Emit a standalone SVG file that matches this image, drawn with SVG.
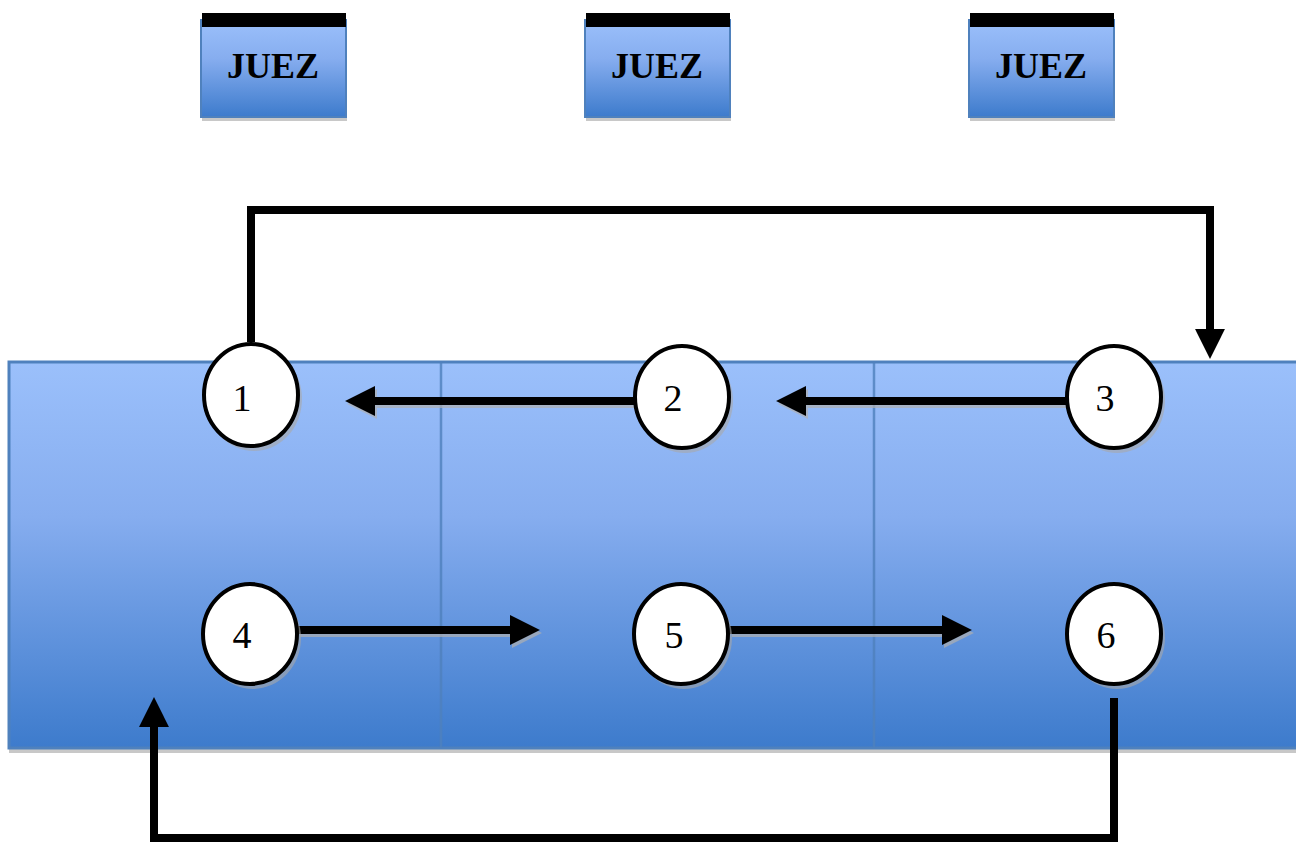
<svg xmlns="http://www.w3.org/2000/svg" width="1296" height="844" viewBox="0 0 1296 844">
<defs>
<linearGradient id="gBlue" x1="0" y1="0" x2="0" y2="1">
<stop offset="0" stop-color="#9bc0fb"/>
<stop offset="0.4" stop-color="#86adef"/>
<stop offset="1" stop-color="#3d7bcc"/>
</linearGradient>
<marker id="ah" markerUnits="userSpaceOnUse" markerWidth="30" markerHeight="30" viewBox="0 0 28 28" refX="1" refY="14" orient="auto">
<path d="M0,0 L28,14 L0,28 Z" fill="#000"/>
</marker>
<marker id="ahs" markerUnits="userSpaceOnUse" markerWidth="30" markerHeight="30" viewBox="0 0 28 28" refX="1" refY="14" orient="auto">
<path d="M0,0 L28,14 L0,28 Z" fill="#b0b0b0"/>
</marker>
</defs>
<style>
.box{fill:url(#gBlue);stroke:#4f81bd;stroke-width:2}
.bar{fill:#000}
.shadow{fill:#c8c8c8}
.juez{font-family:"Liberation Serif",serif;font-weight:bold;font-size:36px;fill:#000;text-anchor:middle}
.num{font-family:"Liberation Serif",serif;font-size:38px;fill:#000;text-anchor:middle}
.node{fill:#fff;stroke:#000;stroke-width:4}
.nshadow{fill:#a8a8a8;opacity:0.6}
.con{fill:none;stroke:#000;stroke-width:8;stroke-linejoin:miter}
.conS{fill:none;stroke:#b0b0b0;stroke-width:8;opacity:0.7}
.div{stroke:#4f81bd;stroke-width:2.5;opacity:0.8}
</style>

<g id="judge1">
<rect class="shadow" x="202" y="116" width="145" height="5"/>
<rect class="box" x="201" y="20" width="145" height="97"/>
<rect class="bar" x="202" y="13" width="144" height="14"/>
<text class="juez" x="273" y="78">JUEZ</text>
</g>
<g id="judge2">
<rect class="shadow" x="586" y="116" width="145" height="5"/>
<rect class="box" x="585" y="20" width="145" height="97"/>
<rect class="bar" x="586" y="13" width="144" height="14"/>
<text class="juez" x="657" y="78">JUEZ</text>
</g>
<g id="judge3">
<rect class="shadow" x="970" y="116" width="145" height="5"/>
<rect class="box" x="969" y="20" width="145" height="97"/>
<rect class="bar" x="970" y="13" width="144" height="14"/>
<text class="juez" x="1041" y="78">JUEZ</text>
</g>

<g id="band">
<rect class="shadow" x="9" y="747" width="1290" height="6"/>
<rect x="9" y="362" width="1300" height="386" fill="url(#gBlue)" stroke="#4f81bd" stroke-width="3"/>
<line class="div" x1="441" y1="362" x2="441" y2="748"/>
<line class="div" x1="874" y1="362" x2="874" y2="748"/>
</g>

<g id="connectors">
<path class="conS" d="M636,404 L376,404" marker-end="url(#ahs)"/>
<path class="conS" d="M1068,404 L807,404" marker-end="url(#ahs)"/>
<path class="conS" d="M300,633 L513,633" marker-end="url(#ahs)"/>
<path class="conS" d="M732,633 L945,633" marker-end="url(#ahs)"/>
<path class="con" d="M634,401 L374,401" marker-end="url(#ah)"/>
<path class="con" d="M1066,401 L805,401" marker-end="url(#ah)"/>
<path class="con" d="M298,630 L511,630" marker-end="url(#ah)"/>
<path class="con" d="M730,630 L943,630" marker-end="url(#ah)"/>
<path class="con" d="M251,342 L251,210 L1210,210 L1210,330" marker-end="url(#ah)"/>
<path class="con" d="M1114,698 L1114,838 L154,838 L154,726" marker-end="url(#ah)"/>
</g>

<g id="node1">
<ellipse class="nshadow" cx="254" cy="399" rx="48" ry="52"/>
<ellipse class="node" cx="251" cy="395" rx="47" ry="51"/>
<text class="num" x="242" y="411">1</text>
</g>
<g id="node2">
<ellipse class="nshadow" cx="685" cy="401" rx="48" ry="52"/>
<ellipse class="node" cx="682" cy="397" rx="47" ry="51"/>
<text class="num" x="673" y="411">2</text>
</g>
<g id="node3">
<ellipse class="nshadow" cx="1117" cy="401" rx="48" ry="52"/>
<ellipse class="node" cx="1114" cy="397" rx="47" ry="51"/>
<text class="num" x="1105" y="411">3</text>
</g>
<g id="node4">
<ellipse class="nshadow" cx="253" cy="638" rx="48" ry="51"/>
<ellipse class="node" cx="250" cy="634" rx="47" ry="50"/>
<text class="num" x="242" y="648">4</text>
</g>
<g id="node5">
<ellipse class="nshadow" cx="684" cy="638" rx="48" ry="51"/>
<ellipse class="node" cx="681" cy="634" rx="47" ry="50"/>
<text class="num" x="674" y="648">5</text>
</g>
<g id="node6">
<ellipse class="nshadow" cx="1117" cy="638" rx="48" ry="51"/>
<ellipse class="node" cx="1114" cy="634" rx="47" ry="50"/>
<text class="num" x="1106" y="648">6</text>
</g>
</svg>
